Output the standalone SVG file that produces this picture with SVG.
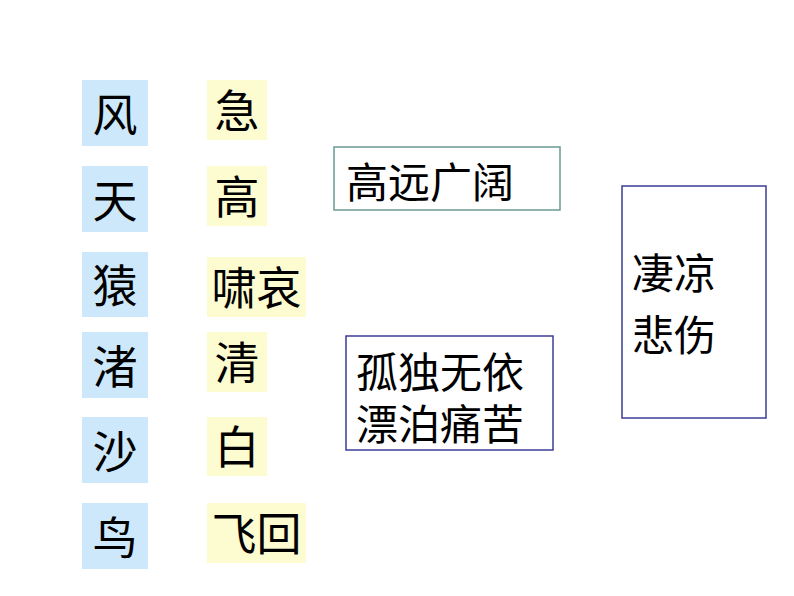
<svg xmlns="http://www.w3.org/2000/svg" width="794" height="596" viewBox="0 0 794 596">
<style>
.b{fill:#cde8fa}
.y{fill:#fdfcd1}
.t{font-family:"Noto Sans CJK SC","Noto Sans CJK JP",sans-serif;font-size:45px;fill:#000;text-anchor:middle}
.bt{font-family:"Noto Sans CJK SC","Noto Sans CJK JP",sans-serif;font-size:42px;fill:#000}
.f{fill:#fff;stroke-width:1.5}
</style>
<rect width="794" height="596" fill="#fff"/>
<g id="n-feng"><rect class="b" x="82" y="80" width="66" height="66"/><text class="t" x="115" y="132">风</text></g>
<g id="n-tian"><rect class="b" x="82" y="166" width="66" height="66"/><text class="t" x="115" y="218">天</text></g>
<g id="n-yuan"><rect class="b" x="82" y="252" width="66" height="65"/><text class="t" x="115" y="303">猿</text></g>
<g id="n-zhu"><rect class="b" x="82" y="332" width="66" height="66"/><text class="t" x="115" y="384">渚</text></g>
<g id="n-sha"><rect class="b" x="82" y="417" width="66" height="66"/><text class="t" x="115" y="469">沙</text></g>
<g id="n-niao"><rect class="b" x="82" y="503" width="66" height="66"/><text class="t" x="115" y="555">鸟</text></g>
<g id="n-ji"><rect class="y" x="207" y="80" width="60" height="60"/><text class="t" x="237" y="128">急</text></g>
<g id="n-gao"><rect class="y" x="207" y="166" width="60" height="60"/><text class="t" x="237" y="214">高</text></g>
<g id="n-xiaoai"><rect class="y" x="207" y="257" width="99" height="60"/><text class="t" x="256.5" y="305">啸哀</text></g>
<g id="n-qing"><rect class="y" x="207" y="332" width="60" height="60"/><text class="t" x="237" y="380">清</text></g>
<g id="n-bai"><rect class="y" x="207" y="417" width="60" height="59"/><text class="t" x="237" y="464">白</text></g>
<g id="n-feihui"><rect class="y" x="207" y="503" width="99" height="60"/><text class="t" x="256.5" y="551">飞回</text></g>
<g id="n-gaoyuan"><rect class="f" x="334" y="147" width="226" height="63" stroke="#6a9a94"/><text class="bt" x="346" y="198">高远广阔</text></g>
<g id="n-gudu"><rect class="f" x="346" y="336" width="207" height="114" stroke="#3c3c98"/><text class="bt" font-size="43"><tspan x="356" y="388">孤独无依</tspan><tspan x="356" y="440">漂泊痛苦</tspan></text></g>
<g id="n-qiliang"><rect class="f" x="622" y="186" width="144" height="232" stroke="#3c3c98"/><text class="bt"><tspan x="632" y="289">凄凉</tspan><tspan x="632" y="351">悲伤</tspan></text></g>
<g id="connectors"></g>
</svg>
